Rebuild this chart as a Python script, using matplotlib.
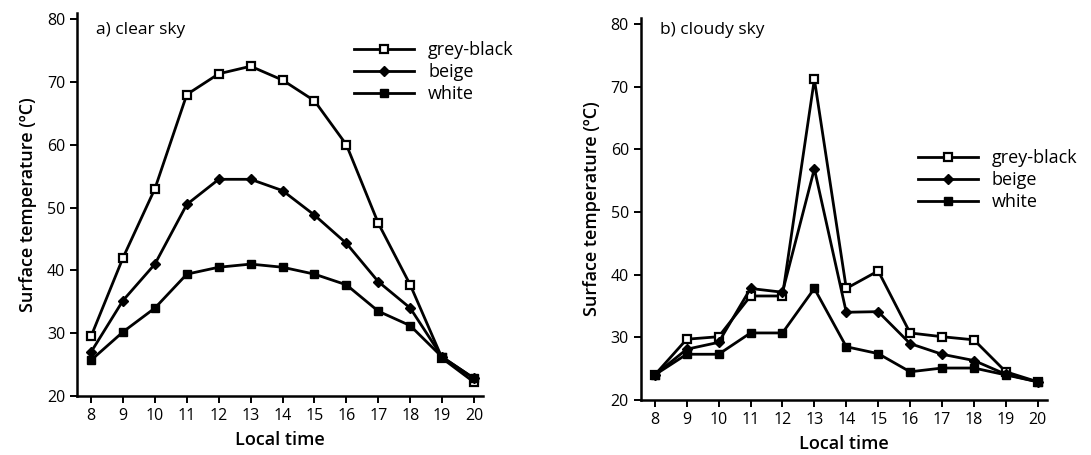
import matplotlib.pyplot as plt

plt.rcParams['font.family'] = ['Open Sans', 'DejaVu Sans']

hours = [8, 9, 10, 11, 12, 13, 14, 15, 16, 17, 18, 19, 20]

# a) clear sky
clear_grey_black = [29.5, 42.0, 53.0, 68.0, 71.3, 72.5, 70.3, 67.0, 60.0, 47.5, 37.7, 26.0, 22.2]
clear_beige = [27.0, 35.2, 41.0, 50.5, 54.5, 54.5, 52.7, 48.8, 44.3, 38.2, 34.0, 26.2, 22.8]
clear_white = [25.7, 30.2, 34.0, 39.4, 40.5, 41.0, 40.5, 39.4, 37.7, 33.5, 31.2, 26.2, 22.8]

# b) cloudy sky
cloudy_grey_black = [24.0, 29.7, 30.1, 36.6, 36.6, 71.2, 37.8, 40.6, 30.7, 30.1, 29.6, 24.5, 22.9]
cloudy_beige = [24.0, 28.1, 29.2, 37.8, 37.2, 56.9, 34.0, 34.1, 29.0, 27.3, 26.3, 24.1, 22.9]
cloudy_white = [24.0, 27.3, 27.3, 30.7, 30.7, 37.8, 28.5, 27.4, 24.5, 25.1, 25.1, 24.0, 22.9]

series_names = ['grey-black', 'beige', 'white']
y_ticks = [20, 30, 40, 50, 60, 70, 80]

fig = plt.figure(figsize=(10.91, 4.55), dpi=100)
ax1 = fig.add_axes([0.0706, 0.1297, 0.3721, 0.842])
ax2 = fig.add_axes([0.5873, 0.1209, 0.3721, 0.840])


def draw_panel(ax, data, title, title_y, legend_pos):
    gb, be, wh = data
    ax.plot(hours, gb, color='black', lw=2.0, marker='s', ms=5.8,
            mfc='white', mec='black', mew=1.6, label=series_names[0], zorder=3)
    ax.plot(hours, be, color='black', lw=2.0, marker='D', ms=5.0,
            mfc='black', mec='black', label=series_names[1], zorder=3)
    ax.plot(hours, wh, color='black', lw=2.0, marker='s', ms=6.0,
            mfc='black', mec='black', label=series_names[2], zorder=3)

    ax.set_xlim(7.56, 20.28)
    ax.set_ylim(20, 81)
    ax.set_xticks(hours)
    ax.set_yticks(y_ticks)
    ax.tick_params(axis='both', labelsize=11.5, width=1.4, length=5, direction='out')
    ax.spines['top'].set_visible(False)
    ax.spines['right'].set_visible(False)
    ax.spines['left'].set_linewidth(1.8)
    ax.spines['bottom'].set_linewidth(1.8)
    ax.set_xlabel('Local time', fontsize=13, fontweight='semibold', labelpad=5)
    ax.set_ylabel('Surface temperature (ºC)', fontsize=13, fontweight='semibold', labelpad=7)
    ax.text(0.047, title_y, title, transform=ax.transAxes, fontsize=12.5, va='center')
    ax.legend(loc='upper left', bbox_to_anchor=legend_pos, frameon=False,
              fontsize=13, handlelength=3.3, handletextpad=0.8, labelspacing=0.22,
              borderaxespad=0)


draw_panel(ax1, (clear_grey_black, clear_beige, clear_white), 'a) clear sky', 0.955, (0.665, 0.945))
draw_panel(ax2, (cloudy_grey_black, cloudy_beige, cloudy_white), 'b) cloudy sky', 0.968, (0.665, 0.675))

fig.savefig('out.png', dpi=100)
